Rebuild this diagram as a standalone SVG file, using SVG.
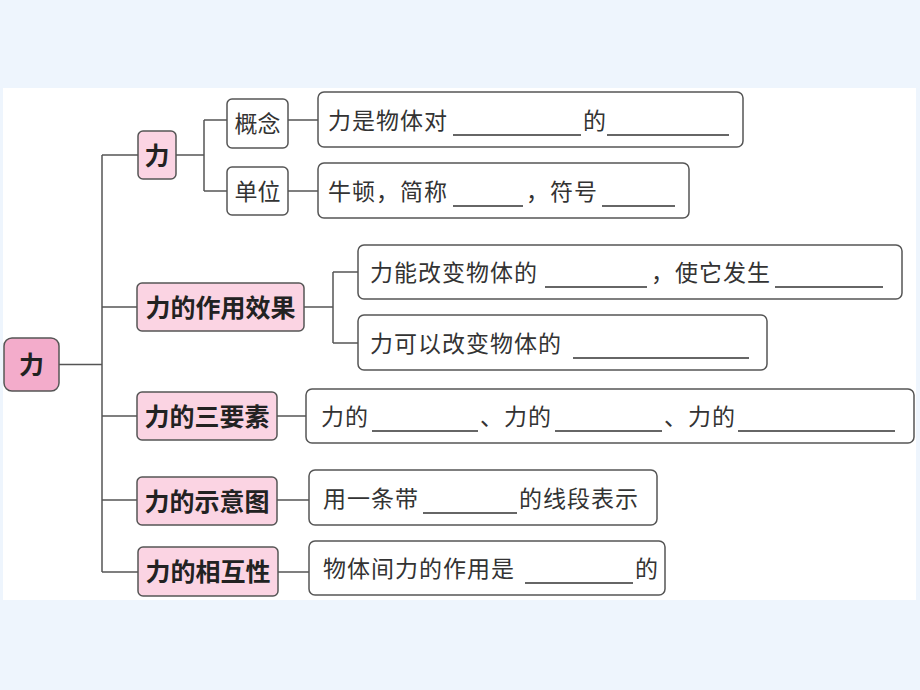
<svg xmlns="http://www.w3.org/2000/svg" width="920" height="690" viewBox="0 0 920 690">
<style>
.root{fill:#f3accb;stroke:#555;stroke-width:1.5}
.l1{fill:#fbd4e3;stroke:#555;stroke-width:1.5}
.l2{fill:#fff;stroke:#555;stroke-width:1.5}
.box{fill:#fff;stroke:#555;stroke-width:1.5}
.t1{font-family:"Noto Sans CJK SC","Noto Sans",sans-serif;font-size:25px;font-weight:bold;fill:#222;text-anchor:middle}
.t2{font-family:"Noto Sans CJK SC","Noto Sans",sans-serif;font-size:23px;fill:#333;text-anchor:middle}
.tx{font-family:"Noto Sans CJK SC","Noto Sans",sans-serif;font-size:23px;fill:#333;letter-spacing:1px}
.blank{stroke:#333;stroke-width:1.5}
.conn path{fill:none;stroke:#555;stroke-width:1.5}
</style>
<rect x="0" y="0" width="920" height="690" fill="#eef5fd"/>
<rect x="3" y="88" width="913" height="512" fill="#fff"/>

<g class="conn">
<path d="M59 364.5H102M102 155V572M102 155H138M102 307H137M102 416H137M102 500H137M102 572H138"/>
<path d="M176 155H204M204 120V191M204 120H227M204 191H227M288 120H318M288 191H318"/>
<path d="M304 307H333M333 272V343M333 272H358M333 343H358"/>
<path d="M277 416H306M277 500H309M278 572H309"/>
</g>

<g id="root"><rect class="root" x="4" y="338" width="55" height="53" rx="8"/><text class="t1" x="31.5" y="374" font-size="27">力</text></g>

<g id="n-li"><rect class="l1" x="138" y="131" width="38" height="48" rx="5"/><text class="t1" x="157" y="164.5">力</text></g>
<g id="n-xiaoguo"><rect class="l1" x="137" y="283" width="167" height="48" rx="5"/><text class="t1" x="220.5" y="316.5">力的作用效果</text></g>
<g id="n-sanyaosu"><rect class="l1" x="137" y="392" width="140" height="48" rx="5"/><text class="t1" x="207" y="425.5">力的三要素</text></g>
<g id="n-shiyitu"><rect class="l1" x="137" y="477" width="140" height="48" rx="5"/><text class="t1" x="207" y="510.5">力的示意图</text></g>
<g id="n-xianghu"><rect class="l1" x="138" y="547" width="140" height="49" rx="5"/><text class="t1" x="208" y="581">力的相互性</text></g>

<g id="n-gainian"><rect class="l2" x="227" y="99" width="61" height="49" rx="5"/><text class="t2" x="257.5" y="132">概念</text></g>
<g id="n-danwei"><rect class="l2" x="227" y="167" width="61" height="48" rx="5"/><text class="t2" x="257.5" y="199.5">单位</text></g>

<g id="b-gainian"><rect class="box" x="318" y="92" width="425" height="55" rx="6"/>
<text class="tx" y="128.5"><tspan x="328">力是物体对</tspan><tspan x="583">的</tspan></text>
<line class="blank" x1="453" y1="135" x2="581" y2="135"/><line class="blank" x1="607" y1="135" x2="729" y2="135"/></g>

<g id="b-danwei"><rect class="box" x="318" y="163" width="371" height="55" rx="6"/>
<text class="tx" y="199.5"><tspan x="328">牛顿，简称</tspan><tspan x="526">，符号</tspan></text>
<line class="blank" x1="453" y1="206" x2="523" y2="206"/><line class="blank" x1="602" y1="206" x2="675" y2="206"/></g>

<g id="b-xiaoguo1"><rect class="box" x="358" y="245" width="544" height="54" rx="6"/>
<text class="tx" y="280.5"><tspan x="370">力能改变物体的</tspan><tspan x="651">，使它发生</tspan></text>
<line class="blank" x1="545" y1="287" x2="647" y2="287"/><line class="blank" x1="775" y1="287" x2="883" y2="287"/></g>

<g id="b-xiaoguo2"><rect class="box" x="358" y="315" width="409" height="55" rx="6"/>
<text class="tx" y="351.5"><tspan x="370">力可以改变物体的</tspan></text>
<line class="blank" x1="573" y1="358" x2="749" y2="358"/></g>

<g id="b-sanyaosu"><rect class="box" x="306" y="389" width="608" height="54" rx="6"/>
<text class="tx" y="424.5"><tspan x="321">力的</tspan><tspan x="480">、力的</tspan><tspan x="664">、力的</tspan></text>
<line class="blank" x1="372" y1="431" x2="478" y2="431"/><line class="blank" x1="555" y1="431" x2="662" y2="431"/><line class="blank" x1="738" y1="431" x2="895" y2="431"/></g>

<g id="b-shiyitu"><rect class="box" x="309" y="470" width="348" height="55" rx="6"/>
<text class="tx" y="506.5"><tspan x="323">用一条带</tspan><tspan x="519">的线段表示</tspan></text>
<line class="blank" x1="423" y1="513" x2="517" y2="513"/></g>

<g id="b-xianghu"><rect class="box" x="309" y="541" width="356" height="54" rx="6"/>
<text class="tx" y="576.5" letter-spacing="2"><tspan x="323">物体间力的作用是</tspan><tspan x="635">的</tspan></text>
<line class="blank" x1="525" y1="583" x2="633" y2="583"/></g>
</svg>
